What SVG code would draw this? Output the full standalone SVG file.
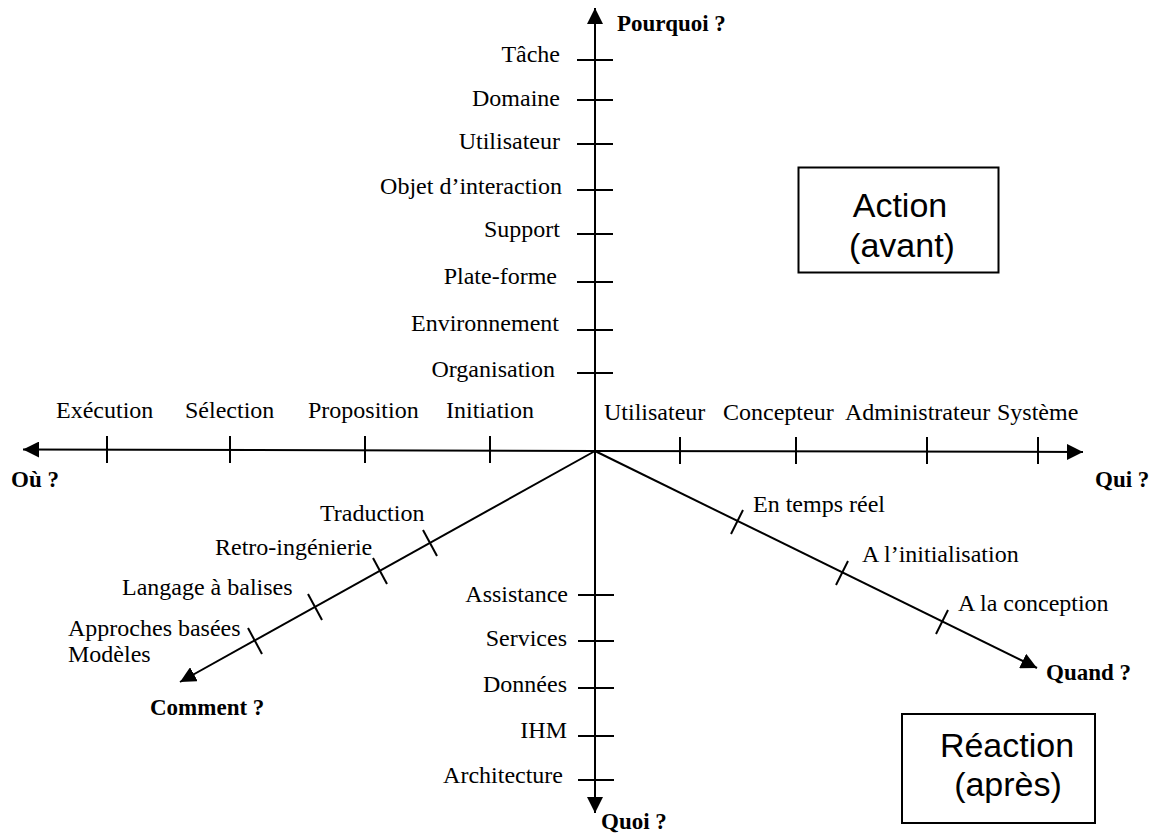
<svg xmlns="http://www.w3.org/2000/svg" width="1155" height="834" viewBox="0 0 1155 834">
<style>
.ax{stroke:#000;stroke-width:2;fill:none}
.tk{stroke:#000;stroke-width:2}
.t{font-family:"Liberation Serif","Times New Roman",serif;font-size:24px;fill:#000}
.e{text-anchor:end}
.b{font-family:"Liberation Serif","Times New Roman",serif;font-size:23px;font-weight:bold;fill:#000}
.bx{fill:#fff;stroke:#000;stroke-width:2}
.bt{font-family:"Liberation Sans",Arial,sans-serif;font-size:34px;text-anchor:middle;fill:#000}
</style>
<defs>
<marker id="ah" markerUnits="userSpaceOnUse" markerWidth="16" markerHeight="16" refX="16" refY="8" orient="auto">
<path d="M0,0 L16,8 L0,16 z" fill="#000"/>
</marker>
</defs>
<rect width="1155" height="834" fill="#fff"/>
<g id="connectors">
<line class="ax" x1="595" y1="451" x2="595" y2="8" marker-end="url(#ah)"/>
<line class="ax" x1="595" y1="451" x2="595" y2="813" marker-end="url(#ah)"/>
<line class="ax" x1="595" y1="451" x2="23" y2="449.5" marker-end="url(#ah)"/>
<line class="ax" x1="595" y1="451" x2="1083" y2="452" marker-end="url(#ah)"/>
<line class="ax" x1="595" y1="451" x2="180" y2="682" marker-end="url(#ah)"/>
<line class="ax" x1="595" y1="451" x2="1037" y2="668" marker-end="url(#ah)"/>
</g>
<g id="ticks">
<line class="tk" x1="577" y1="60" x2="613" y2="60"/>
<line class="tk" x1="577" y1="100" x2="613" y2="100"/>
<line class="tk" x1="577" y1="144" x2="613" y2="144"/>
<line class="tk" x1="577" y1="190" x2="613" y2="190"/>
<line class="tk" x1="577" y1="234" x2="613" y2="234"/>
<line class="tk" x1="577" y1="282" x2="613" y2="282"/>
<line class="tk" x1="577" y1="330" x2="613" y2="330"/>
<line class="tk" x1="577" y1="373" x2="613" y2="373"/>
<line class="tk" x1="578" y1="595" x2="614" y2="595"/>
<line class="tk" x1="578" y1="641" x2="614" y2="641"/>
<line class="tk" x1="578" y1="688" x2="614" y2="688"/>
<line class="tk" x1="578" y1="736" x2="614" y2="736"/>
<line class="tk" x1="578" y1="780" x2="614" y2="780"/>
<line class="tk" x1="107" y1="436" x2="107" y2="463"/>
<line class="tk" x1="230" y1="436" x2="230" y2="463"/>
<line class="tk" x1="365" y1="436" x2="365" y2="463"/>
<line class="tk" x1="490" y1="436" x2="490" y2="463"/>
<line class="tk" x1="680" y1="437" x2="680" y2="464"/>
<line class="tk" x1="796" y1="437" x2="796" y2="464"/>
<line class="tk" x1="927" y1="437" x2="927" y2="464"/>
<line class="tk" x1="1038" y1="437" x2="1038" y2="464"/>
<line class="tk" x1="423" y1="530" x2="437" y2="556"/>
<line class="tk" x1="373" y1="558" x2="387" y2="584"/>
<line class="tk" x1="308" y1="594" x2="322" y2="620"/>
<line class="tk" x1="248" y1="628" x2="262" y2="654"/>
<line class="tk" x1="743" y1="510" x2="731" y2="534"/>
<line class="tk" x1="848" y1="561" x2="836" y2="585"/>
<line class="tk" x1="948" y1="610" x2="936" y2="634"/>
</g>
<g id="pourquoi">
<text class="b" x="617" y="31">Pourquoi ?</text>
<text class="t e" x="560" y="62">Tâche</text>
<text class="t e" x="560" y="106">Domaine</text>
<text class="t e" x="560" y="149">Utilisateur</text>
<text class="t e" x="562" y="194">Objet d’interaction</text>
<text class="t e" x="560" y="237">Support</text>
<text class="t e" x="557" y="284">Plate-forme</text>
<text class="t e" x="559" y="331">Environnement</text>
<text class="t e" x="555" y="377">Organisation</text>
</g>
<g id="ou">
<text class="b" x="11" y="487">Où ?</text>
<text class="t" x="56" y="418">Exécution</text>
<text class="t" x="185" y="418">Sélection</text>
<text class="t" x="308" y="418">Proposition</text>
<text class="t" x="446" y="418">Initiation</text>
</g>
<g id="qui">
<text class="b" x="1095" y="487">Qui ?</text>
<text class="t" x="604" y="420">Utilisateur</text>
<text class="t" x="723" y="420">Concepteur</text>
<text class="t" x="845" y="420">Administrateur</text>
<text class="t" x="997" y="420">Système</text>
</g>
<g id="comment">
<text class="b" x="150" y="715">Comment ?</text>
<text class="t" x="320" y="521">Traduction</text>
<text class="t" x="215" y="555">Retro-ingénierie</text>
<text class="t" x="122" y="595">Langage à balises</text>
<text class="t" x="68" y="636">Approches basées</text>
<text class="t" x="68" y="662">Modèles</text>
</g>
<g id="quand">
<text class="b" x="1046" y="680">Quand ?</text>
<text class="t" x="753" y="512">En temps réel</text>
<text class="t" x="862" y="562">A l’initialisation</text>
<text class="t" x="958" y="611">A la conception</text>
</g>
<g id="quoi">
<text class="b" x="601" y="829">Quoi ?</text>
<text class="t e" x="568" y="602">Assistance</text>
<text class="t e" x="567" y="646">Services</text>
<text class="t e" x="567" y="692">Données</text>
<text class="t e" x="567" y="738">IHM</text>
<text class="t e" x="563" y="783">Architecture</text>
</g>
<g id="action">
<rect class="bx" x="798.5" y="167.5" width="200" height="105"/>
<text class="bt" x="900" y="217">Action</text>
<text class="bt" x="902" y="257">(avant)</text>
</g>
<g id="reaction">
<rect class="bx" x="902" y="714" width="193" height="109"/>
<text class="bt" x="1007" y="757">Réaction</text>
<text class="bt" x="1008" y="796">(après)</text>
</g>
</svg>
